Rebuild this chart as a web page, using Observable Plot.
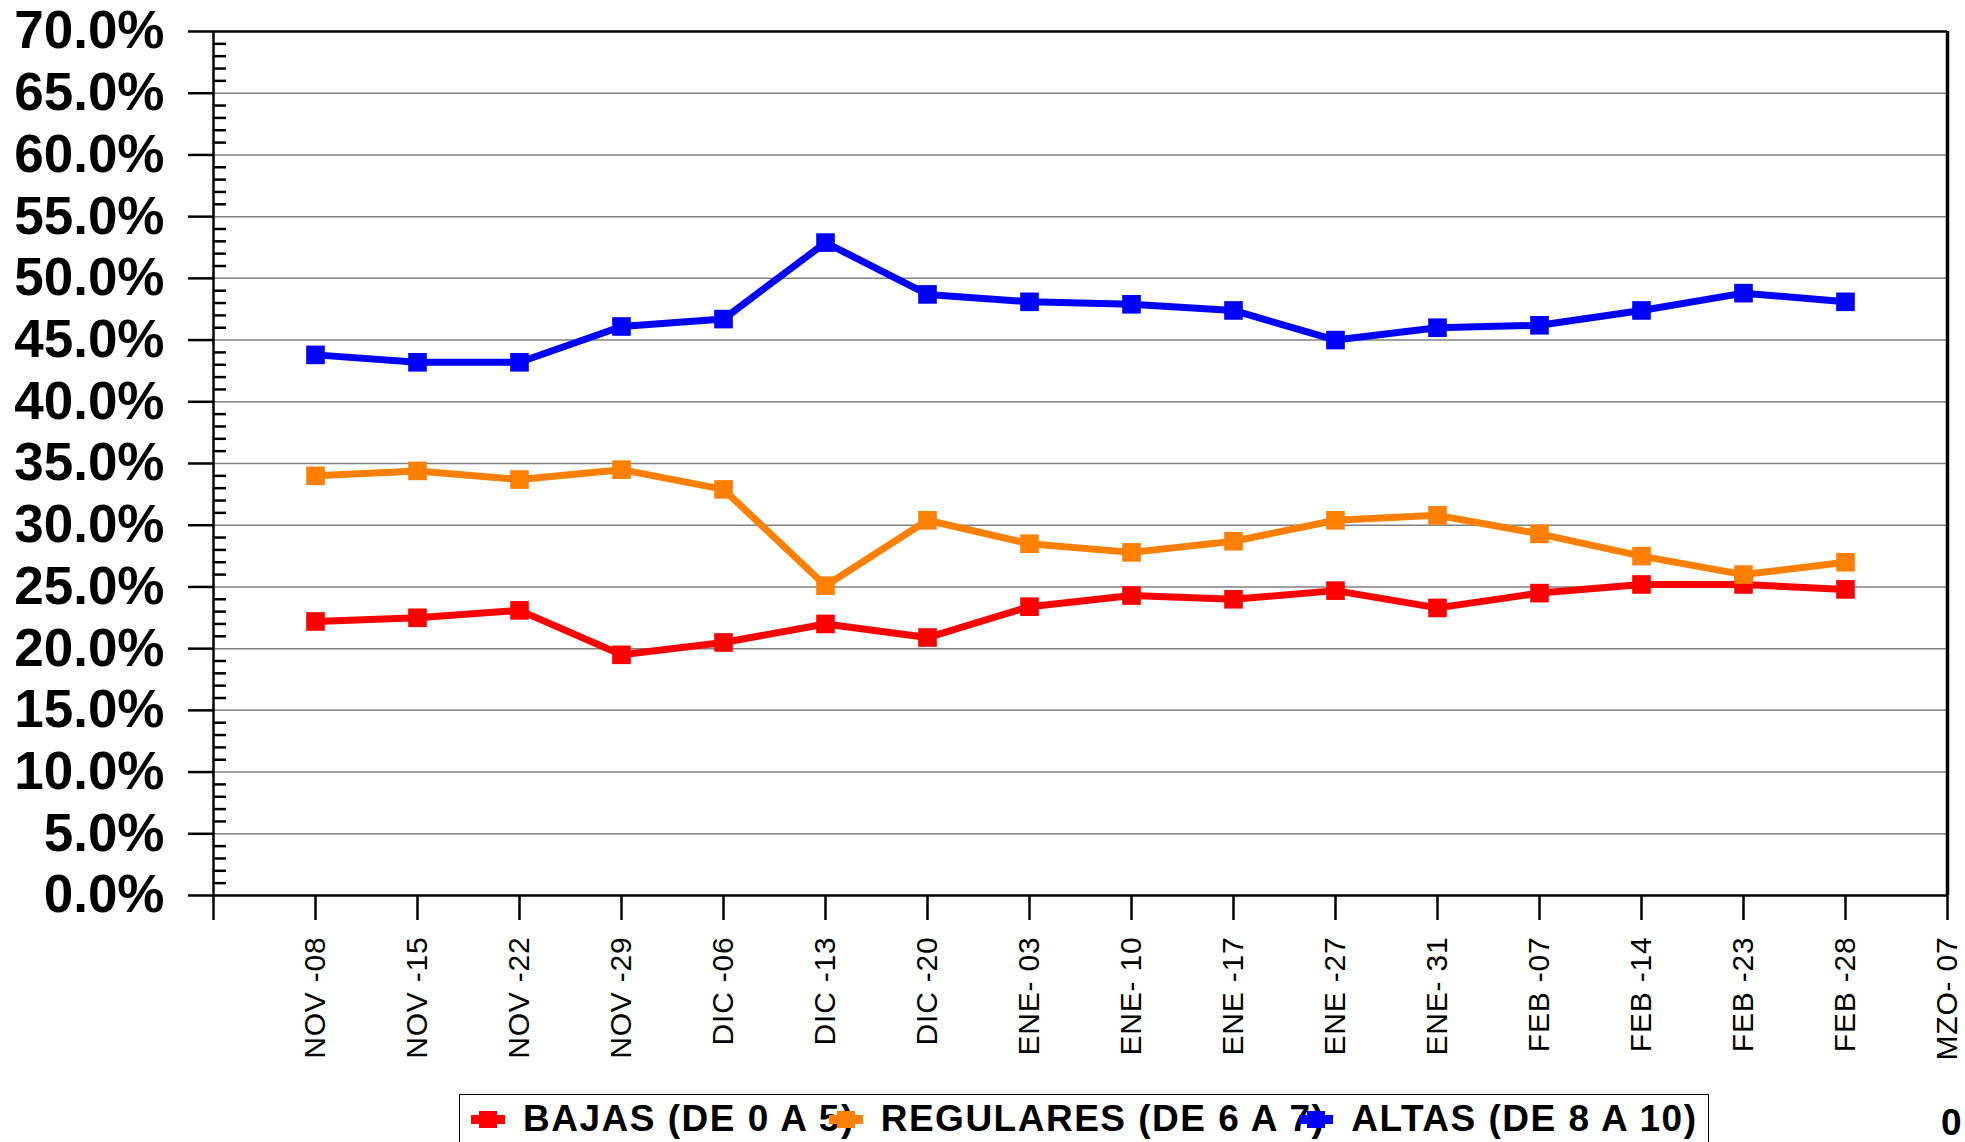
<!DOCTYPE html>
<html>
<head>
<meta charset="utf-8">
<script src="https://cdn.jsdelivr.net/npm/d3@7"></script>
<script src="https://cdn.jsdelivr.net/npm/@observablehq/plot@0.6"></script>
<style>
  html, body { margin: 0; padding: 0; background: #fff; }
  body { width: 1965px; height: 1142px; overflow: hidden; position: relative; }
  #chart svg { display: block; }
  #legend {
    position: absolute; left: 459px; top: 1094px; width: 1250px; height: 70px;
    border: 1.5px solid #000; box-sizing: border-box;
    display: flex; align-items: flex-start; padding: 6px 0 0 11px;
    font-family: "Liberation Sans Narrow", "Arial Narrow", "Liberation Sans", Arial, sans-serif;
    font-weight: bold; font-size: 37px; letter-spacing: 1.5px; color: #000;
  }
  .item { display: flex; align-items: center; height: 36px; line-height: 36px; white-space: nowrap; }
  .item + .item { margin-left: -26px; }
  .mk { position: relative; width: 34px; height: 9px; margin-right: 18px; z-index: 2; }
  .mk i { position: absolute; left: 8px; top: -4px; width: 18px; height: 17px; background: inherit; }
  .tx { position: relative; z-index: 1; }
  #corner {
    position: absolute; left: 1941px; top: 1105px;
    font-family: "Liberation Sans Narrow", "Arial Narrow", "Liberation Sans", Arial, sans-serif;
    font-weight: bold; font-size: 37px; line-height: 36px; letter-spacing: 3px;
  }
</style>
</head>
<body>
<div id="chart"></div>
<div id="legend"></div>
<div id="corner">00</div>
<script>
// ---- data ----
const labels = ["NOV -08","NOV -15","NOV -22","NOV -29","DIC -06","DIC -13","DIC -20",
  "ENE- 03","ENE- 10","ENE -17","ENE -27","ENE- 31","FEB -07","FEB -14","FEB -23","FEB -28","MZO- 07"];
const seriesNames = ["BAJAS (DE 0 A 5)", "REGULARES (DE 6 A 7)", "ALTAS (DE 8 A 10)"];
const seriesColors = ["#ff0000", "#ff8000", "#0000ff"];
const bajas     = [22.2, 22.5, 23.1, 19.5, 20.5, 22.0, 20.9, 23.4, 24.3, 24.0, 24.7, 23.3, 24.5, 25.2, 25.2, 24.8];
const regulares = [34.0, 34.4, 33.7, 34.5, 32.9, 25.1, 30.4, 28.5, 27.8, 28.7, 30.4, 30.8, 29.3, 27.5, 26.0, 27.0];
const altas     = [43.8, 43.2, 43.2, 46.1, 46.7, 52.9, 48.7, 48.1, 47.9, 47.4, 45.0, 46.0, 46.2, 47.4, 48.8, 48.1];
const yMajor = [0, 5, 10, 15, 20, 25, 30, 35, 40, 45, 50, 55, 60, 65, 70];

// ---- build table ----
const data = [];
[bajas, regulares, altas].forEach((vals, s) => {
  vals.forEach((v, i) => data.push({idx: i + 1, value: v, serie: seriesNames[s]}));
});
const yMinor = d3.range(0, 71).filter(v => v % 5 !== 0);
const xTicks = d3.range(0, labels.length + 1);
const narrow = "'Liberation Sans Narrow', 'Arial Narrow', 'Liberation Sans', Arial, sans-serif";

const chart = Plot.plot({
  width: 1965,
  height: 1090,
  marginLeft: 213,
  marginTop: 31,
  marginRight: 18,
  marginBottom: 195,
  x: {type: "linear", domain: [0, labels.length], label: null},
  y: {domain: [0, 70], label: null},
  color: {domain: seriesNames, range: seriesColors},
  marks: [
    Plot.gridY(yMajor.filter(v => v > 0 && v < 70), {stroke: "#808080", strokeOpacity: 1, strokeWidth: 1.5}),
    Plot.axisY(yMajor, {
      tickSize: 25, tickPadding: 24, strokeWidth: 2.5, label: null,
      tickFormat: d => d.toFixed(1) + "%",
      fontSize: 53, fontWeight: "bold", fontFamily: narrow, fill: "#000"
    }),
    Plot.axisY(yMinor, {tickSize: 13, dx: 13, text: null, strokeWidth: 2.5, label: null}),
    Plot.axisX(xTicks, {
      tickSize: 25, tickPadding: 16, tickRotate: -90, strokeWidth: 2.5, label: null,
      tickFormat: i => labels[i - 1] ?? "",
      fontSize: 30, fontFamily: "'Liberation Sans', Arial, sans-serif", fill: "#000"
    }),
    Plot.ruleY([0, 70], {stroke: "#000", strokeWidth: 2.5}),
    Plot.ruleX([0], {stroke: "#000", strokeWidth: 2.5}),
    Plot.ruleX([labels.length], {stroke: "#000", strokeWidth: 3.5}),
    Plot.line(data, {x: "idx", y: "value", z: "serie", stroke: "serie", strokeWidth: 7}),
    Plot.dot(data, {x: "idx", y: "value", fill: "serie", symbol: "square", r: 10.5})
  ]
});
chart.querySelectorAll('[aria-label="x-axis tick label"] text').forEach(t => t.style.letterSpacing = "0.8px");
document.getElementById("chart").appendChild(chart);

// ---- legend ----
const legend = document.getElementById("legend");
seriesNames.forEach((name, i) => {
  const item = document.createElement("div");
  item.className = "item";
  const mk = document.createElement("span");
  mk.className = "mk";
  mk.style.background = seriesColors[i];
  mk.appendChild(document.createElement("i"));
  const tx = document.createElement("span");
  tx.className = "tx";
  tx.textContent = name;
  item.appendChild(mk);
  item.appendChild(tx);
  legend.appendChild(item);
});
</script>
</body>
</html>
